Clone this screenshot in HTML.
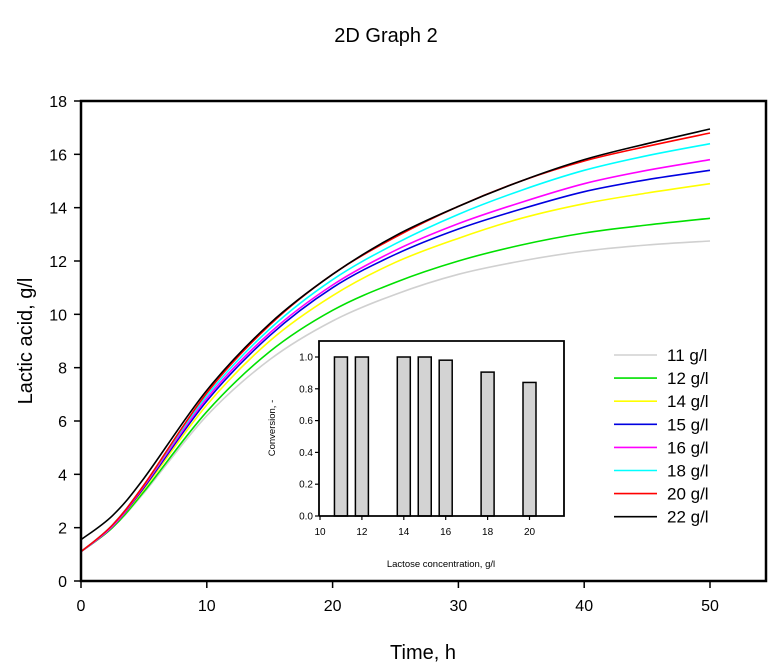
<!DOCTYPE html>
<html><head><meta charset="utf-8"><style>
body{margin:0;background:#fff;}
svg{display:block;font-family:"Liberation Sans",Arial,sans-serif;}
</style></head><body>
<svg id="chart" width="771" height="668">
<text x="386" y="42" font-size="20" text-anchor="middle">2D Graph 2</text>
<g id="main"></g>
<g id="inset"></g>
<g id="legend"></g>
</svg>
<script>
const times=[0,2.5,5,10,15,20,25,30,35,40,45,50];
const seriesLabels=["11 g/l","12 g/l","14 g/l","15 g/l","16 g/l","18 g/l","20 g/l","22 g/l"];
const seriesColors=["#d0d0d0","#00e000","#ffff00","#0000e0","#ff00ff","#00ffff","#ff0000","#000000"];
const s11=[1.1,2.0,3.3,6.2,8.3,9.75,10.75,11.5,12.0,12.37,12.6,12.75];
const s12=[1.1,2.0,3.35,6.35,8.6,10.15,11.2,12.0,12.6,13.05,13.35,13.6];
const s14=[1.1,2.05,3.45,6.6,9.0,10.7,11.95,12.85,13.6,14.15,14.55,14.9];
const s15=[1.1,2.05,3.5,6.75,9.2,11.0,12.25,13.2,13.95,14.6,15.05,15.4];
const s16=[1.1,2.05,3.55,6.85,9.3,11.1,12.4,13.4,14.2,14.9,15.4,15.8];
const s18=[1.1,2.1,3.6,6.95,9.45,11.3,12.65,13.75,14.65,15.4,15.95,16.4];
const s20=[1.1,2.1,3.6,7.05,9.6,11.5,12.9,14.05,15.0,15.75,16.3,16.8];
const s22=[1.55,2.45,3.85,7.15,9.65,11.5,12.95,14.05,15.0,15.8,16.4,16.95];
const xTicks=[0,10,20,30,40,50];
const yTicks=[0,2,4,6,8,10,12,14,16,18];
const barCats=[11,12,14,15,16,18,20];
const barVals=[1.0,1.0,1.0,1.0,0.98,0.905,0.84];
const insetXTicks=[10,12,14,16,18,20];
const insetYTicks=[0,0.2,0.4,0.6,0.8,1.0];

const NS="http://www.w3.org/2000/svg";
function mk(tag,attrs,parent,txt){const e=document.createElementNS(NS,tag);for(const k in attrs)e.setAttribute(k,attrs[k]);if(txt!==undefined)e.textContent=txt;parent.appendChild(e);return e;}
const X=v=>81+v*12.58;
const Y=v=>581-v*(480/18);
const main=document.getElementById('main');
const all=[s11,s12,s14,s15,s16,s18,s20,s22];
all.forEach((s,i)=>{
  const pts=times.map((t,j)=>[X(t),Y(s[j])]);
  let d="M"+pts[0][0]+","+pts[0][1];
  for(let j=0;j<pts.length-1;j++){
    const p0=pts[Math.max(0,j-1)],p1=pts[j],p2=pts[j+1],p3=pts[Math.min(pts.length-1,j+2)];
    const c1=[p1[0]+(p2[0]-p0[0])/6,p1[1]+(p2[1]-p0[1])/6];
    const c2=[p2[0]-(p3[0]-p1[0])/6,p2[1]-(p3[1]-p1[1])/6];
    d+=` C${c1[0]},${c1[1]} ${c2[0]},${c2[1]} ${p2[0]},${p2[1]}`;
  }
  const p=mk('path',{d:d,fill:'none',stroke:seriesColors[i],'stroke-width':1.6},main);
  
  
});
const fr=mk('rect',{x:81,y:101,width:685,height:480,fill:'none',stroke:'#000','stroke-width':2.5},main);


xTicks.forEach(v=>{
  mk('line',{x1:X(v),x2:X(v),y1:581,y2:588,stroke:'#000','stroke-width':1.5},main);
  const t=mk('text',{x:X(v),y:611,'font-size':16,'text-anchor':'middle'},main,String(v));
  
  
});
yTicks.forEach(v=>{
  mk('line',{x1:74,x2:81,y1:Y(v),y2:Y(v),stroke:'#000','stroke-width':1.5},main);
  const t=mk('text',{x:67,y:Y(v)+6,'font-size':16,'text-anchor':'end'},main,String(v));
  
  
});
const xt=mk('text',{x:423,y:659,'font-size':20,'text-anchor':'middle'},main,'Time, h');


const yt=mk('text',{x:0,y:0,'font-size':20,'text-anchor':'middle',transform:'translate(32,341) rotate(-90)'},main,'Lactic acid, g/l');


const ins=document.getElementById('inset');
const IX=v=>320+(v-10)*20.95;
const IY=v=>516-v*159;
const ib=mk('rect',{x:319,y:341,width:245,height:175,fill:'#fff',stroke:'none'},ins);


barCats.forEach((c,i)=>{
  const r=mk('rect',{x:IX(c)-6.5,y:IY(barVals[i]),width:13,height:516-IY(barVals[i]),fill:'#d3d3d3',stroke:'#000','stroke-width':1.5},ins);
  
  
});
const ifr=mk('path',{d:'M319,516 V341 H564 V516 H319',fill:'none',stroke:'#000','stroke-width':1.8},ins);


insetXTicks.forEach(v=>{
  mk('line',{x1:IX(v),x2:IX(v),y1:516,y2:520,stroke:'#000','stroke-width':1.2},ins);
  const t=mk('text',{x:IX(v),y:535,'font-size':10,'text-anchor':'middle'},ins,String(v));
  
  
});
insetYTicks.forEach(v=>{
  mk('line',{x1:315,x2:319,y1:IY(v),y2:IY(v),stroke:'#000','stroke-width':1.2},ins);
  const t=mk('text',{x:313,y:IY(v)+3.5,'font-size':10,'text-anchor':'end'},ins,v.toFixed(1));
  
  
});
const ixt=mk('text',{x:441,y:567,'font-size':9.5,'text-anchor':'middle'},ins,'Lactose concentration, g/l');


const iyt=mk('text',{x:0,y:0,'font-size':9.5,'text-anchor':'middle',transform:'translate(275,428) rotate(-90)'},ins,'Conversion, -');


const lg=document.getElementById('legend');
seriesLabels.forEach((l,i)=>{
  const y=355+i*23.1;
  const ln=mk('line',{x1:614,x2:657,y1:y,y2:y,stroke:seriesColors[i],'stroke-width':1.6},lg);
  
  
  const t=mk('text',{x:667,y:y+6,'font-size':17},lg,l);
  
  
});
</script>
</body></html>
